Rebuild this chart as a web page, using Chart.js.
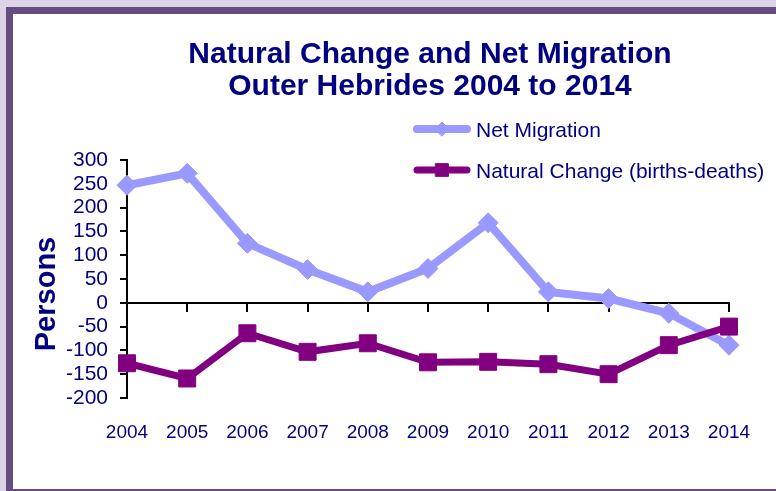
<!DOCTYPE html>
<html>
<head>
<meta charset="utf-8">
<script src="https://cdn.jsdelivr.net/npm/chart.js@4/dist/chart.umd.min.js"></script>
<style>
    html, body { margin: 0; padding: 0; }
    body { width: 776px; height: 491px; background: #dcd4e6; position: relative; overflow: hidden; }
    .frame {
        position: absolute; left: 6px; top: 7px; width: 800px; height: 475px;
        border: 7px solid #644d7e; background: #ffffff;
    }
    #canvas { position: absolute; left: 0; top: 0; }
</style>
</head>
<body>
<div class="frame"></div>
<canvas id="canvas" width="776" height="491"></canvas>
<script>
const years = ['2004', '2005', '2006', '2007', '2008', '2009', '2010', '2011', '2012', '2013', '2014'];
const netMigration = [247, 272, 125, 70, 23, 72, 168, 23, 9, -22, -89];
const naturalChange = [-127, -159, -64, -103, -85, -125, -124, -129, -150, -89, -50];
const titleLines = ['Natural Change and Net Migration', 'Outer Hebrides 2004 to 2014'];
const yTitle = 'Persons';

const navy = '#000080';

const data = {
    labels: years,
    datasets: [
        {
            label: 'Net Migration',
            data: netMigration,
            borderColor: '#9999ff',
            backgroundColor: '#9999ff',
            borderWidth: 8,
            pointStyle: 'rectRot',
            pointRadius: 10,
            pointBorderWidth: 1,
            clip: false,
            order: 1,
        },
        {
            label: 'Natural Change (births-deaths)',
            data: naturalChange,
            borderColor: '#800080',
            backgroundColor: '#800080',
            borderWidth: 7,
            pointStyle: 'rect',
            pointRadius: 12,
            pointBorderWidth: 1,
            clip: false,
            order: 0,
        },
    ],
};

// title, legend and axis title drawn at fixed spots like the original sheet
const decor = {
    id: 'decor',
    afterDraw(chart) {
        const ctx = chart.ctx;
        ctx.save();
        ctx.fillStyle = navy;
        ctx.textAlign = 'center';
        ctx.textBaseline = 'alphabetic';
        ctx.font = 'bold 30px "Liberation Sans", Arial, sans-serif';
        ctx.fillText(titleLines[0], 430, 63);
        ctx.fillText(titleLines[1], 430, 95);

        ctx.save();
        ctx.translate(55, 294);
        ctx.rotate(-Math.PI / 2);
        ctx.font = 'bold 29px "Liberation Sans", Arial, sans-serif';
        ctx.fillText(yTitle, 0, 0);
        ctx.restore();

        const rows = [
            { ds: chart.data.datasets[0], y: 129, r: 7 },
            { ds: chart.data.datasets[1], y: 170, r: 9 },
        ];
        rows.forEach(function (row) {
            ctx.strokeStyle = row.ds.borderColor;
            ctx.lineWidth = row.ds.borderWidth;
            ctx.lineCap = 'round';
            ctx.beginPath();
            ctx.moveTo(417, row.y);
            ctx.lineTo(467, row.y);
            ctx.stroke();
            ctx.fillStyle = row.ds.backgroundColor;
            ctx.lineWidth = 1;
            Chart.helpers.drawPoint(ctx, { pointStyle: row.ds.pointStyle, radius: row.r, rotation: 0, borderWidth: 1 }, 442, row.y);
            ctx.fillStyle = navy;
            ctx.textAlign = 'left';
            ctx.font = '21px "Liberation Sans", Arial, sans-serif';
            ctx.fillText(row.ds.label, 476, row.y + 8);
        });
        ctx.restore();
    },
};

const config = {
    type: 'line',
    data: data,
    options: {
        responsive: false,
        devicePixelRatio: 1,
        animation: false,
        layout: { padding: { top: 160, right: 47, left: 0, bottom: 0 } },
        plugins: {
            legend: { display: false },
            title: { display: false },
            tooltip: { enabled: false },
        },
        scales: {
            x: {
                type: 'category',
                offset: false,
                grid: { display: false },
                border: { display: false },
                ticks: {
                    color: navy,
                    padding: 15,
                    maxRotation: 0,
                    autoSkip: false,
                    font: { family: '"Liberation Sans Narrow", "Liberation Sans", Arial', size: 19 },
                },
                afterFit: function (scale) { scale.height = 93; },
            },
            x2: {
                type: 'category',
                position: { y: 0 },
                offset: false,
                grid: { drawOnChartArea: false, drawTicks: true, tickLength: 8, color: '#000000', lineWidth: 2 },
                border: { display: true, color: '#000000', width: 2 },
                ticks: { display: false },
            },
            y: {
                min: -200,
                max: 300,
                ticks: {
                    stepSize: 50,
                    autoSkip: false,
                    color: navy,
                    padding: 12,
                    font: { family: '"Liberation Sans", Arial', size: 21 },
                },
                grid: { drawOnChartArea: false, drawTicks: true, tickLength: 7, color: '#000000', lineWidth: 2 },
                border: { display: true, color: '#000000', width: 2 },
                afterFit: function (scale) { scale.width = 127; },
            },
        },
    },
    plugins: [decor],
};

const canvas = document.getElementById('canvas');
const chart = new Chart(canvas, config);
</script>
</body>
</html>
